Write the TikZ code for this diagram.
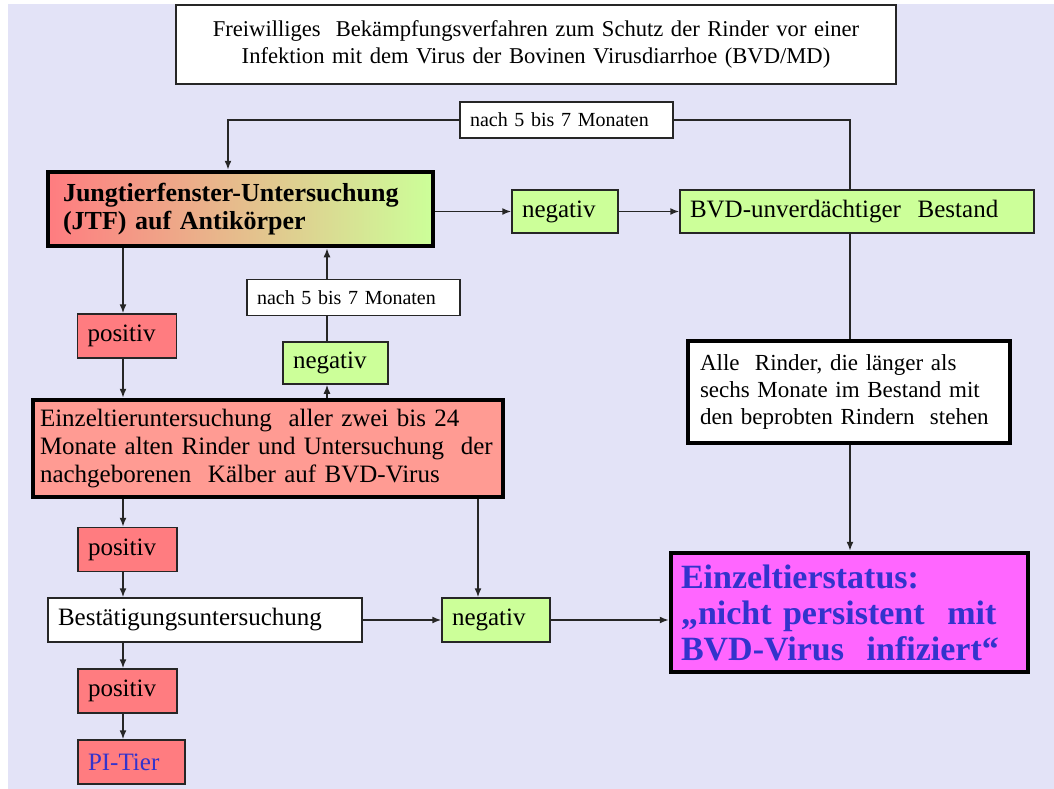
\documentclass[tikz,border=0pt]{standalone}
\usepackage{fontspec}
\setmainfont{Liberation Serif}
\usetikzlibrary{arrows.meta,positioning}
\definecolor{lavender}{HTML}{E3E3F7}
\definecolor{boxred}{HTML}{FF7C80}
\definecolor{boxsalmon}{HTML}{FF9B93}
\definecolor{boxgreen}{HTML}{CCFF99}
\definecolor{statuspink}{HTML}{FF66FF}
\definecolor{ink}{HTML}{3333CC}

\begin{document}
\begin{tikzpicture}[x=1pt,y=-1pt,>={Latex[length=9pt,width=7pt]}]
\tikzset{
  box/.style={draw=black!85,line width=1.5pt,inner xsep=10pt,inner ysep=2pt,align=left,font=\fontsize{25}{28}\selectfont},
  heavy/.style={box,draw=black,line width=4.5pt},
  posbox/.style={box,fill=boxred,text width=79pt,minimum height=44pt},
  negbox/.style={box,fill=boxgreen,minimum height=43pt},
  note/.style={box,fill=white,minimum height=36pt,text width=193pt,font=\fontsize{20}{24}\selectfont},
  link/.style={draw=black!85,line width=1.5pt}
}
\useasboundingbox (0,0) rectangle (1054,789);
\fill[lavender] (8,4) rectangle (1054,789);

% title
\node[box,fill=white,align=center,text width=700pt,minimum height=79pt,font=\fontsize{22.6}{27}\selectfont] (title) at (536,44.5)
  {Freiwilliges\ \ Bekämpfungsverfahren zum Schutz der Rinder vor einer\\Infektion mit dem Virus der Bovinen Virusdiarrhoe (BVD/MD)};

% upper row
\node[heavy,inner xsep=15pt,text width=355pt,minimum height=74pt,left color=boxred,right color=boxgreen,font=\fontsize{26}{28}\selectfont\bfseries] (jtf) at (240.5,209)
  {Jungtierfenster-Untersuchung\\(JTF) auf Antikörper};
\node[negbox,text width=86pt] (neg1) at (565,211.5) {negativ};
\node[negbox,text width=334pt] (bvd) at (857,211.5) {BVD-unverdächtiger\ \ Bestand};
\node[note] (nach1) at (566.5,120) {nach 5 bis 7 Monaten};

% left part
\node[posbox] (pos1) at (127,336) {positiv};
\node[note] (nach2) at (353.5,297.5) {nach 5 bis 7 Monaten};
\node[negbox,text width=85pt,minimum height=42pt] (neg2) at (335.5,363) {negativ};
\node[heavy,fill=boxsalmon,inner xsep=7pt,text width=456pt,minimum height=97pt] (einzel) at (268,448.5)
  {Einzeltieruntersuchung\ \ aller zwei bis 24\\Monate alten Rinder und Untersuchung\ \ der\\nachgeborenen\ \ Kälber auf BVD-Virus};
\node[posbox] (pos2) at (127.5,549.5) {positiv};
\node[box,fill=white,text width=294pt,minimum height=44pt] (best) at (205,620) {Bestätigungsuntersuchung};
\node[negbox,text width=88pt,minimum height=44pt] (neg3) at (496,620) {negativ};
\node[posbox] (pos3) at (127.5,691) {positiv};
\node[posbox,text width=87pt,text=ink] (pi) at (131.5,762) {PI-Tier};

% right part
\node[heavy,fill=white,inner xsep=12pt,text width=298pt,minimum height=102pt,font=\fontsize{23}{27}\selectfont] (alle) at (849,392)
  {Alle\ \ Rinder, die länger als\\sechs Monate im Bestand mit\\den beprobten Rindern\ \ stehen};
\node[heavy,fill=statuspink,text=ink,text width=337pt,minimum height=119pt,font=\fontsize{34}{36}\selectfont\bfseries] (status) at (849.5,612.5)
  {Einzeltierstatus:\\„nicht persistent\ \ mit\\BVD-Virus\ \ infiziert“};

% connectors
\coordinate (colL) at (123,0);
\coordinate (colM) at (327,0);
\coordinate (colN) at (478,0);
\coordinate (colR) at (850,0);
\coordinate (loopL) at (228,0);
\foreach \a/\b in {jtf/pos1,pos1/einzel,einzel/pos2,pos2/best,best/pos3,pos3/pi}
  \draw[link,->] (\a.south -| colL) -- (\b.north -| colL);
\draw[link,->] (einzel.north -| colM) -- (neg2.south -| colM);
\draw[link] (neg2.north -| colM) -- (nach2.south -| colM);
\draw[link,->] (nach2.north -| colM) -- (jtf.south -| colM);
\draw[link,->] (jtf.east |- neg1) -- (neg1.west);
\draw[link,->] (neg1.east) -- (bvd.west);
\draw[link] (bvd.north -| colR) |- (nach1.east);
\draw[link,->] (nach1.west) -| (jtf.north -| loopL);
\draw[link] (bvd.south -| colR) -- (alle.north -| colR);
\draw[link,->] (alle.south -| colR) -- (status.north -| colR);
\draw[link,->] (einzel.south -| colN) -- (neg3.north -| colN);
\draw[link,->] (best.east) -- (neg3.west);
\draw[link,->] (neg3.east) -- (neg3.east -| status.west);
\end{tikzpicture}
\end{document}
